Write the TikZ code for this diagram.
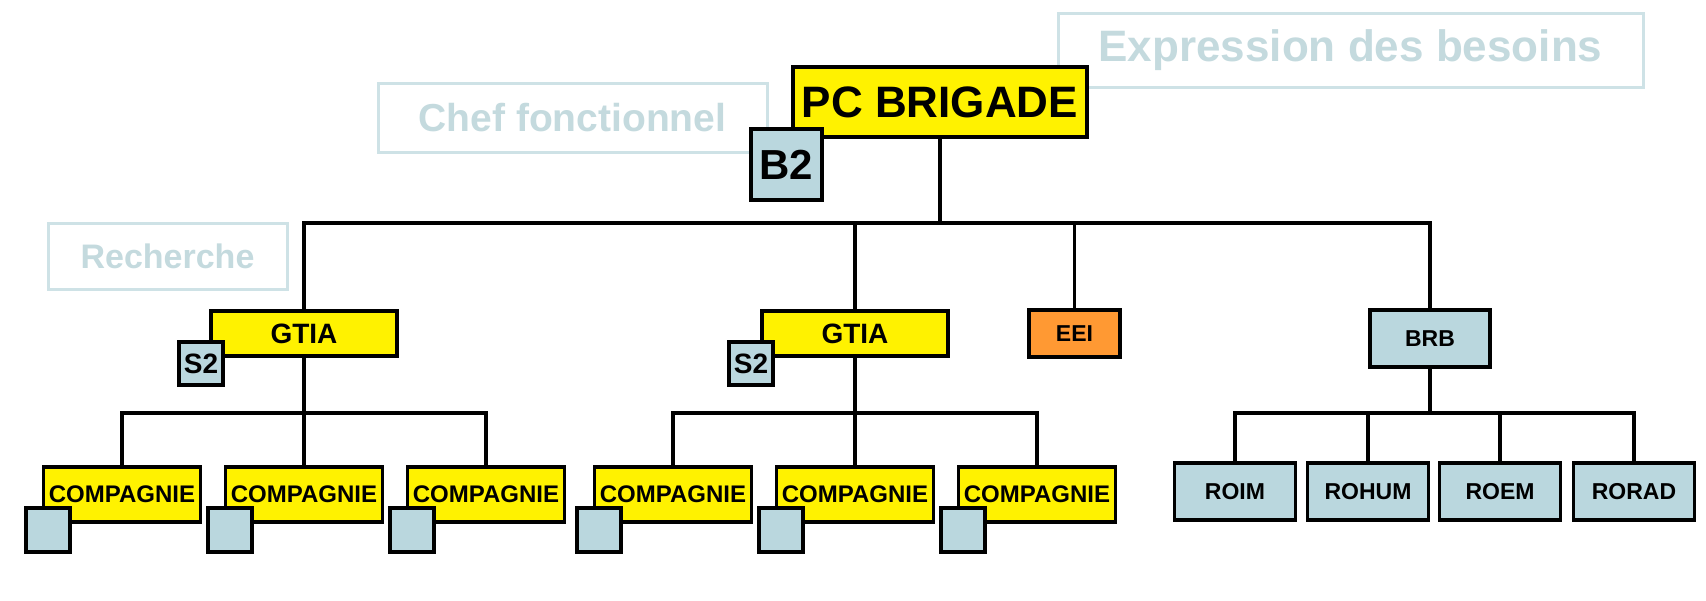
\documentclass[tikz,border=0pt]{standalone}
\usepackage{fontspec}
\setmainfont{Liberation Sans}
\definecolor{ghostline}{RGB}{206,226,230}
\definecolor{ghosttext}{RGB}{196,218,222}
\definecolor{lightblu}{RGB}{186,215,222}
\definecolor{orangebox}{RGB}{255,153,51}
\newcommand{\fs}[1]{\fontsize{#1}{#1}\selectfont\bfseries}
\begin{document}
\begin{tikzpicture}[x=0.5pt,y=-0.5pt,
  box/.style={draw=black, line width=1.9pt, inner sep=0pt},
  ybox/.style={box, fill=yellow},
  bbox/.style={box, fill=lightblu},
  obox/.style={box, fill=orangebox},
  ghost/.style={draw=ghostline, line width=1.5pt, inner sep=0pt, text=ghosttext, fill=white},
  comp/.style={ybox, minimum width=78.5pt, minimum height=27.5pt, font=\fs{12pt}},
  sq/.style={bbox, minimum width=22pt, minimum height=22pt},
  ro/.style={bbox, minimum width=60.5pt, minimum height=28.5pt, font=\fs{11.5pt}},
  conn/.style={line width=1.7pt, black},
  stem/.style={line width=2pt, black}]
\useasboundingbox[fill=white] (0,0) rectangle (1706,600);

% ghost labels
\node[ghost, minimum width=292.5pt, minimum height=37pt, font=\fs{22pt}] (exp) at (1350.5,50) {Expression des besoins};
\node[ghost, minimum width=194.5pt, minimum height=34.5pt, font=\fs{19.5pt}] (chef) at (572.5,117.5) {Chef fonctionnel};
\node[ghost, minimum width=119.5pt, minimum height=33pt, font=\fs{17pt}] (rech) at (167.5,256) {Recherche};

% top
\node[ybox, minimum width=147pt, minimum height=35pt, font=\fs{22pt}] (pc) at (940,102) {PC BRIGADE};
\node[bbox, minimum width=35.5pt, minimum height=35.5pt, font=\fs{21pt}] (b2) at (786.5,164.5) {B2};

% second level
\node[ybox, minimum width=93pt, minimum height=22.5pt, font=\fs{14pt}] (gtia1) at (304,333.5) {GTIA};
\node[bbox, minimum width=22pt, minimum height=21.5pt, font=\fs{14pt}] (s2a) at (201,363.5) {S2};
\node[ybox, minimum width=93pt, minimum height=22.5pt, font=\fs{14pt}] (gtia2) at (855,333.5) {GTIA};
\node[bbox, minimum width=22pt, minimum height=21.5pt, font=\fs{14pt}] (s2b) at (751,363.5) {S2};
\node[obox, minimum width=45.5pt, minimum height=23.5pt, font=\fs{11.5pt}] (eei) at (1074.5,333.5) {EEI};
\node[bbox, minimum width=60pt, minimum height=28.5pt, font=\fs{11.5pt}] (brb) at (1430,338.5) {BRB};

% compagnies
\node[comp] (c11) at (122,494.5) {COMPAGNIE};
\node[comp] (c12) at (304,494.5) {COMPAGNIE};
\node[comp] (c13) at (486,494.5) {COMPAGNIE};
\node[comp] (c21) at (673,494.5) {COMPAGNIE};
\node[comp] (c22) at (855,494.5) {COMPAGNIE};
\node[comp] (c23) at (1037,494.5) {COMPAGNIE};
\node[sq] (q11) at (48,530) {};
\node[sq] (q12) at (230,530) {};
\node[sq] (q13) at (412,530) {};
\node[sq] (q21) at (599,530) {};
\node[sq] (q22) at (781,530) {};
\node[sq] (q23) at (963,530) {};

% BRB children
\node[ro] (roim) at (1235,491.5) {ROIM};
\node[ro] (rohum) at (1368,491.5) {ROHUM};
\node[ro] (roem) at (1500,491.5) {ROEM};
\node[ro] (rorad) at (1634,491.5) {RORAD};

% connectors
\coordinate (t) at (940,223);
\draw[conn] (pc.south) -- (t);
\draw[stem] (gtia1.north) |- (t) -| (brb.north);
\draw[conn] (gtia2.north) -- (gtia2.north |- t);
\draw[conn] (eei.north) -- (eei.north |- t);

\coordinate (g1) at (304,413);
\draw[conn] (c11.north) |- (g1) -| (c13.north);
\draw[stem] (gtia1.south) -- (c12.north);

\coordinate (g2) at (855,413);
\draw[conn] (c21.north) |- (g2) -| (c23.north);
\draw[stem] (gtia2.south) -- (c22.north);

\coordinate (g3) at (1430,413);
\draw[conn] (roim.north) |- (g3) -| (rorad.north);
\draw[stem] (brb.south) -- (g3);
\draw[conn] (rohum.north) -- (rohum.north |- g3);
\draw[conn] (roem.north) -- (roem.north |- g3);
\end{tikzpicture}
\end{document}
